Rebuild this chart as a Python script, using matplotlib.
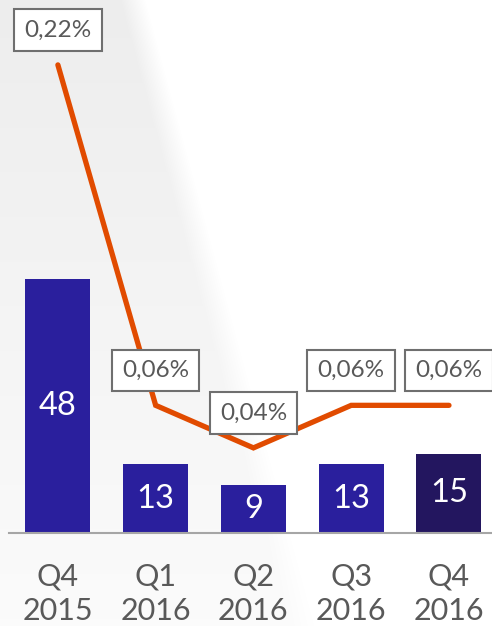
import numpy as np
import matplotlib.pyplot as plt

plt.rcParams['font.family'] = ['Lato', 'DejaVu Sans']

quarters = ["Q4\n2015", "Q1\n2016", "Q2\n2016", "Q3\n2016", "Q4\n2016"]
counts = [48, 13, 9, 13, 15]
rates = [0.22, 0.06, 0.04, 0.06, 0.06]
rate_labels = ["0,22%", "0,06%", "0,04%", "0,06%", "0,06%"]

bar_colors = ["#2a1f9d"] * 4 + ["#23165f"]
line_color = "#e14b00"
text_gray = "#595959"

W, H = 492, 626
fig = plt.figure(figsize=(W / 100, H / 100), dpi=100)
fig.patch.set_facecolor("white")

# faint grey wedge behind the left part, soft on its slanted edge
bg = fig.add_axes([0, 0, 1, 1], zorder=0)
bg.axis("off")
yy, xx = np.mgrid[0:H, 0:W]
edge = 145 + 0.27 * yy
soft = np.clip((edge - xx) / 25, 0, 1)
dark = (0.07 - 0.055 * yy / H) * soft
shade = np.dstack([1 - dark] * 3)
bg.imshow(shade, extent=(0, W, H, 0), aspect="auto", interpolation="bilinear")
bg.set_xlim(0, W)
bg.set_ylim(H, 0)

ax = fig.add_axes([9 / W, 1 - 533 / H, (W - 9) / W, 533 / H], zorder=1)
ax.patch.set_alpha(0)
x = np.arange(len(quarters))
bars = ax.bar(x, counts, width=0.665, color=bar_colors)
for b, v in zip(bars, counts):
    ax.text(b.get_x() + b.get_width() / 2, v / 2, str(v), ha="center", va="center",
            color="white", fontsize=23.5)
ax.set_xlim(-0.5, 4.44)
ax.set_ylim(0, 100.9)
for s in ["top", "right", "left"]:
    ax.spines[s].set_visible(False)
ax.spines["bottom"].set_color("#a6a6a6")
ax.spines["bottom"].set_linewidth(1.5)
ax.set_yticks([])
ax.set_xticks(x)
ax.set_xticklabels(quarters, fontsize=22, color=text_gray, linespacing=1.28)
ax.tick_params(axis="x", length=0, pad=21)

ax2 = ax.twinx()
ax2.set_ylim(0, 0.2505)
ax2.axis("off")
ax2.plot(x, rates, color=line_color, linewidth=3.8, solid_capstyle="round",
         solid_joinstyle="miter")
for xi, r, lab in zip(x, rates, rate_labels):
    ax2.annotate(lab, (xi, r), xytext=(0, 25), textcoords="offset points",
                 ha="center", va="center", fontsize=17.5, color=text_gray,
                 bbox=dict(boxstyle="square,pad=0.42", fc="white", ec="#6f6f6f", lw=1.5))

fig.savefig("out.png", dpi=100)
